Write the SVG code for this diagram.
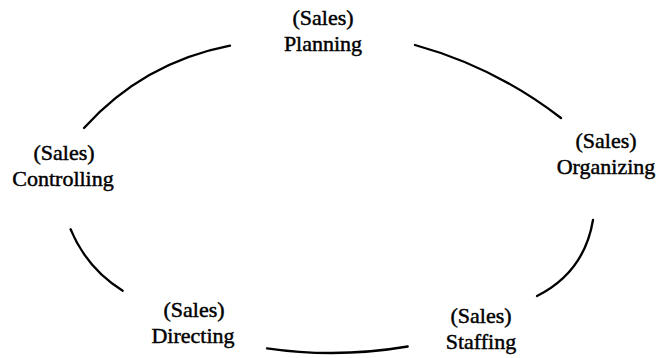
<svg xmlns="http://www.w3.org/2000/svg" width="659" height="358" viewBox="0 0 659 358">
<style>
text{font-family:"Liberation Serif","Times New Roman",serif;font-size:22px;fill:#000;stroke:#000;stroke-width:0.45;text-anchor:middle}
.arc{fill:none;stroke:#000;stroke-width:2.3;stroke-linecap:round}
</style>
<rect width="659" height="358" fill="#fff"/>
<g id="connectors">
<path class="arc" d="M84,128 Q143.3,62.5 230,45.7"/>
<path class="arc" d="M415,45 Q495.2,67.2 561,118"/>
<path class="arc" d="M593,220 Q584.3,272.2 537,296"/>
<path class="arc" d="M407.7,346.5 Q337,358.5 267,348.3"/>
<path class="arc" d="M122.7,290.7 Q86.7,268.3 70.6,229.3"/>
</g>
<g id="planning"><text x="323" y="25">(Sales)</text><text x="323" y="51">Planning</text></g>
<g id="organizing"><text x="606" y="148">(Sales)</text><text x="606" y="174">Organizing</text></g>
<g id="staffing"><text x="481" y="323">(Sales)</text><text x="481" y="349">Staffing</text></g>
<g id="directing"><text x="194" y="317">(Sales)</text><text x="193" y="343">Directing</text></g>
<g id="controlling"><text x="64" y="160">(Sales)</text><text x="63" y="186">Controlling</text></g>
</svg>
